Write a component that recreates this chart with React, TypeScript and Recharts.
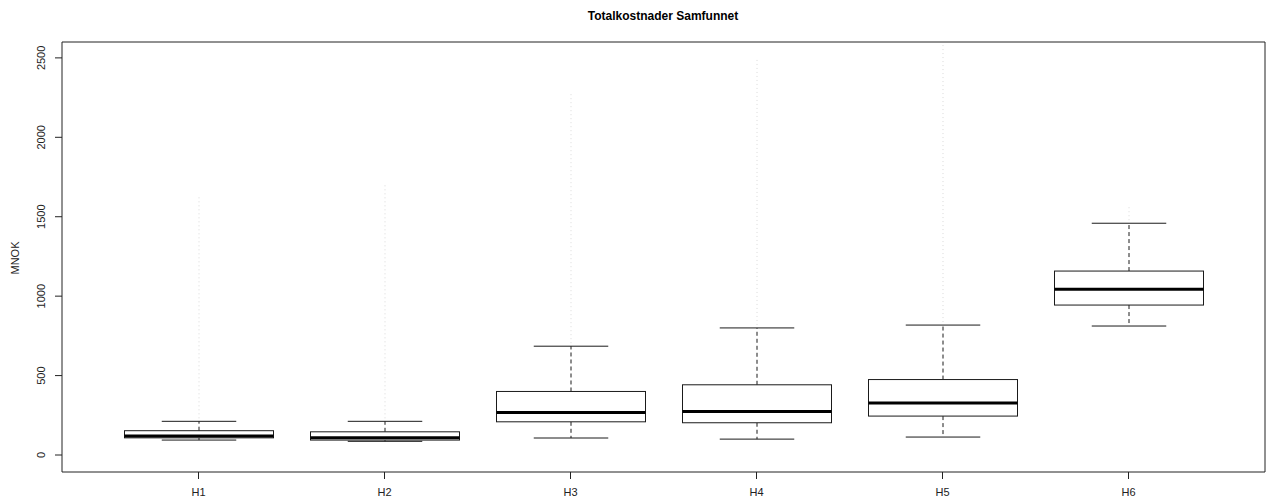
import React from "react";
import { ComposedChart, Bar, XAxis, YAxis } from "recharts";

const categories = ["H1", "H2", "H3", "H4", "H5", "H6"];
const lowerWhisker = [94, 86, 107, 100, 113, 812];
const q1 = [108, 94, 209, 203, 245, 944];
const median = [120, 109, 268, 274, 327, 1043];
const q3 = [153, 146, 400, 442, 475, 1158];
const upperWhisker = [212, 212, 685, 800, 818, 1459];
const outlierMax = [1629, 1708, 2285, 2505, 2594, 1566];
const yTicks = [0, 500, 1000, 1500, 2000, 2500];

const data = categories.map((name, i) => ({
  name,
  lo: lowerWhisker[i],
  q1: q1[i],
  med: median[i],
  q3: q3[i],
  hi: upperWhisker[i],
  omax: outlierMax[i],
  range: [lowerWhisker[i], outlierMax[i]],
}));

const FONT = "'Liberation Sans', Arial, sans-serif";

const BoxShape = (props: any) => {
  const { x, y, width, height, payload } = props;
  if (payload == null || !isFinite(y) || !isFinite(height)) return null;
  const low = payload.lo;
  const high = payload.omax;
  const k = height / (high - low);
  const py = (v: number) => y + (high - v) * k;
  const cx = x + width / 2;
  const capHalf = width / 4;
  const stroke = "#1a1a1a";
  return (
    <g>
      <line x1={cx} x2={cx} y1={py(payload.hi) - 3} y2={py(payload.omax)} stroke="#d9d9d9" strokeWidth={1} strokeDasharray="1 3" />
      <line x1={cx} x2={cx} y1={py(payload.q3)} y2={py(payload.hi)} stroke={stroke} strokeWidth={1} strokeDasharray="4 3" />
      <line x1={cx} x2={cx} y1={py(payload.q1)} y2={py(payload.lo)} stroke={stroke} strokeWidth={1} strokeDasharray="4 3" />
      <line x1={cx - capHalf} x2={cx + capHalf} y1={py(payload.hi)} y2={py(payload.hi)} stroke={stroke} strokeWidth={1} />
      <line x1={cx - capHalf} x2={cx + capHalf} y1={py(payload.lo)} y2={py(payload.lo)} stroke={stroke} strokeWidth={1} />
      <rect x={x} y={py(payload.q3)} width={width} height={py(payload.q1) - py(payload.q3)} fill="#ffffff" stroke={stroke} strokeWidth={1} />
      <line x1={x} x2={x + width} y1={py(payload.med)} y2={py(payload.med)} stroke="#000000" strokeWidth={3} />
    </g>
  );
};

const YTick = (props: any) => {
  const { y, payload } = props;
  return (
    <g>
      <line x1={55} x2={62} y1={y} y2={y} stroke="#222" strokeWidth={1} />
      <text
        transform={`translate(45, ${y}) rotate(-90)`}
        textAnchor="middle"
        fontSize={11}
        fontFamily={FONT}
        fill="#222"
      >
        {payload.value}
      </text>
    </g>
  );
};

const XTick = (props: any) => {
  const { x, payload } = props;
  return (
    <g>
      <line x1={x} x2={x} y1={472} y2={479} stroke="#222" strokeWidth={1} />
      <text x={x} y={496} textAnchor="middle" fontSize={11} fontFamily={FONT} fill="#222">
        {payload.value}
      </text>
    </g>
  );
};

export default function App() {
  return (
    <div style={{ position: "absolute", left: 0, top: 0, width: 1266, height: 499, background: "#fff" }}>
      <ComposedChart
        width={1266}
        height={499}
        data={data}
        margin={{ top: 41, right: 0, bottom: 0, left: 0 }}
        barCategoryGap={0}
      >
        <text x={663} y={20} textAnchor="middle" fontSize={12} fontWeight="bold" fontFamily={FONT} fill="#000">
          Totalkostnader Samfunnet
        </text>
        <text
          transform="translate(19, 258) rotate(-90)"
          textAnchor="middle"
          fontSize={11}
          fontFamily={FONT}
          fill="#222"
        >
          MNOK
        </text>
        <XAxis
          dataKey="name"
          type="category"
          height={27}
          padding={{ left: 43.5, right: 43.5 }}
          axisLine={{ stroke: "#222", strokeWidth: 1 }}
          tickLine={false}
          tick={<XTick />}
          interval={0}
        />
        <YAxis
          type="number"
          domain={[-107, 2600]}
          allowDataOverflow
          ticks={yTicks}
          width={62}
          axisLine={{ stroke: "#222", strokeWidth: 1 }}
          tickLine={false}
          tick={<YTick />}
        />
        <XAxis xAxisId="top" orientation="top" dataKey="name" height={1} tick={false} tickLine={false} axisLine={{ stroke: "#222", strokeWidth: 1 }} />
        <YAxis yAxisId="right" orientation="right" width={1} tick={false} tickLine={false} axisLine={{ stroke: "#222", strokeWidth: 1 }} />
        <Bar dataKey="range" barSize={149} shape={<BoxShape />} isAnimationActive={false} />
      </ComposedChart>
    </div>
  );
}
